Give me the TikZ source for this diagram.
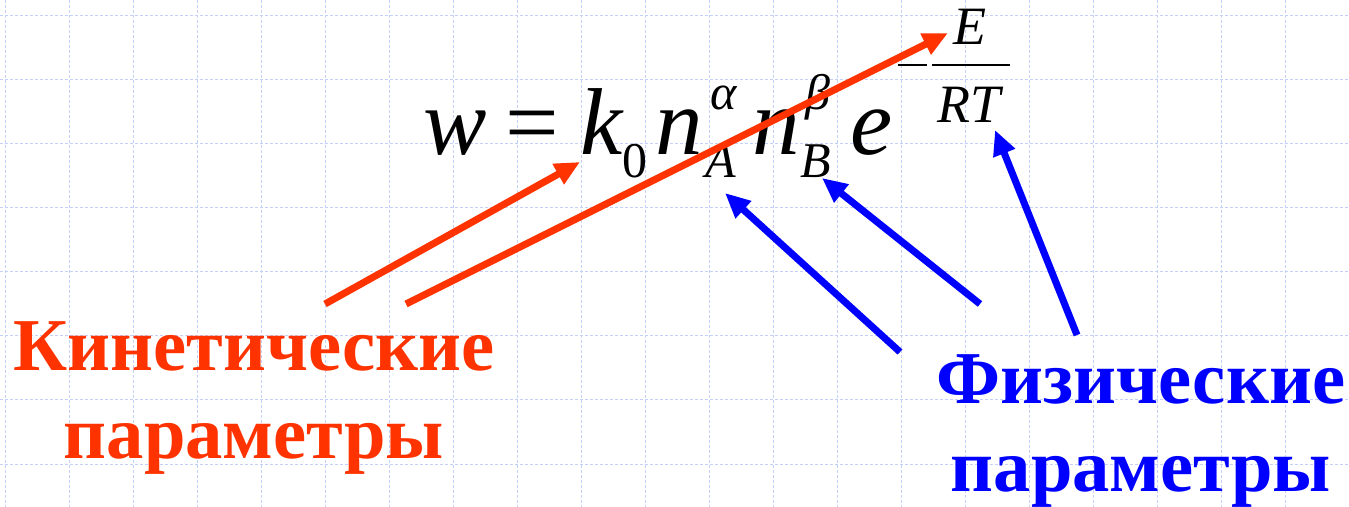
\documentclass[tikz,border=0pt]{standalone}
\usepackage{fontspec}
\setmainfont{Liberation Serif}
\usetikzlibrary{arrows.meta}
\definecolor{kinred}{HTML}{FF3300}
\definecolor{phyblue}{HTML}{0000FF}
\definecolor{gridblue}{HTML}{C4D0F8}

\begin{document}
\begin{tikzpicture}[
  x=0.5pt,y=-0.5pt,
  gridline/.style={gridblue,line width=0.5pt,dash pattern=on 1.5pt off 1pt},
  big/.style  ={inner sep=0pt,anchor=base west,font=\fontsize{47.5}{50}\selectfont\itshape},
  small/.style={inner sep=0pt,anchor=base west,font=\fontsize{25}{27}\selectfont\itshape},
  frac/.style ={inner sep=0pt,anchor=base west,font=\fontsize{27}{30}\selectfont\itshape},
  lbl/.style  ={align=center,inner sep=0pt,font=\fontsize{37.3}{44}\selectfont\bfseries},
  karr/.style ={kinred,line width=3.5pt,-{Triangle[length=12.5pt,width=11pt]}},
  parr/.style ={phyblue,line width=3.5pt,-{Triangle[length=12.5pt,width=11pt]}}
]
\useasboundingbox (0,0) rectangle (1349,507);
\foreach \x in {5,69,...,1349} \draw[gridline] (\x,0) -- (\x,507);
\foreach \y in {16,80,...,464} \draw[gridline] (0,\y) -- (1349,\y);

\node[big](w) at (423,155){w};
\node[big,font=\fontsize{47.5}{50}\selectfont](eq) at (505,155){=};
\node[big](k) at (580,155){k};
\node[small,font=\fontsize{25}{27}\selectfont](k0) at (622,178){0};
\node[big](na) at (655,155){n};
\node[small](al) at (710,110){α};
\node[small](A) at (705,178){A};
\node[big](nb) at (752,155){n};
\node[small](be) at (805,110){β};
\node[small](B) at (800,178){B};
\node[big](e) at (850,155){e};
\draw[line width=1pt] (898,65) -- (927,65);
\draw[line width=1pt] (932,65) -- (1010,65);
\node[frac](E) at (953,45){E};
\node[frac](RT) at (937,123){RT};

\node[lbl,kinred](kin) at (254,398){Кинетические\\параметры};
\node[lbl,phyblue](phy) at (1141,431){Физические\\параметры};

\coordinate (k1s) at (325,304); \coordinate (k1e) at (580,162);
\coordinate (k2s) at (406,304); \coordinate (k2e) at (948,33);
\coordinate (p1s) at (900,352); \coordinate (p1e) at (725,193);
\coordinate (p2s) at (980,304); \coordinate (p2e) at (822,178);
\coordinate (p3s) at (1077,335); \coordinate (p3e) at (995,130);

\draw[karr](k1s)--(k1e); \draw[karr](k2s)--(k2e);
\draw[parr](p1s)--(p1e); \draw[parr](p2s)--(p2e);
\draw[parr](p3s)--(p3e);
\end{tikzpicture}
\end{document}
